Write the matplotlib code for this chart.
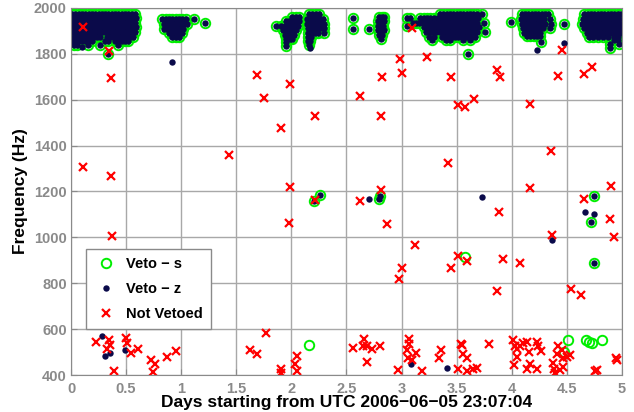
import numpy as np
import matplotlib
matplotlib.use('Agg')
import matplotlib.pyplot as plt

plt.rcParams['font.family'] = ['Liberation Sans', 'DejaVu Sans']
plt.rcParams['font.weight'] = 'bold'

# ---- data ----
# dense trigger clumps near the top: each row is (frequency Hz, [day offsets])
# these are vetoed by both s and z
clump1 = [(1975, [0.010, 0.040, 0.070, 0.100, 0.130, 0.160, 0.190, 0.220, 0.250, 0.280, 0.310, 0.340,
                  0.370, 0.400, 0.430, 0.460, 0.490, 0.520, 0.550, 0.580]),
          (1955, [0.025, 0.055, 0.085, 0.115, 0.145, 0.175, 0.205, 0.235, 0.265, 0.295, 0.325, 0.355,
                  0.385, 0.415, 0.445, 0.475, 0.505, 0.535, 0.565, 0.590]),
          (1935, [0.010, 0.040, 0.070, 0.100, 0.130, 0.160, 0.190, 0.220, 0.250, 0.280, 0.310, 0.340,
                  0.370, 0.400, 0.430, 0.460, 0.490, 0.520, 0.550, 0.580]),
          (1915, [0.025, 0.055, 0.085, 0.115, 0.145, 0.175, 0.205, 0.235, 0.265, 0.295, 0.325, 0.355,
                  0.385, 0.415, 0.445, 0.475, 0.505, 0.535, 0.565, 0.590]),
          (1895, [0.010, 0.040, 0.070, 0.100, 0.130, 0.160, 0.190, 0.220, 0.250, 0.280, 0.310, 0.340,
                  0.370, 0.400, 0.430, 0.460, 0.490, 0.520, 0.550, 0.580]),
          (1875, [0.025, 0.055, 0.085, 0.115, 0.145, 0.175, 0.205, 0.235, 0.265, 0.325, 0.355,
                  0.385, 0.415, 0.445, 0.475, 0.505, 0.535, 0.565]),
          (1857, [0.010, 0.040, 0.070, 0.100, 0.130, 0.160, 0.190, 0.310, 0.340, 0.400, 0.430, 0.460,
                  0.490, 0.520]),
          (1840, [0.025, 0.055, 0.150, 0.260, 0.430]),
          (1797, [0.335])]
clump2 = [(1950, [0.830, 0.860, 0.890, 0.920, 0.950, 0.980, 1.010, 1.040, 1.120]),
          (1936, [1.220]),
          (1930, [0.845, 0.875, 0.905, 0.935, 0.965, 0.995, 1.025, 1.055]),
          (1910, [0.840, 0.870, 0.900, 0.930, 0.960, 0.990, 1.020]),
          (1890, [0.890, 0.920, 0.950, 0.980, 1.010]),
          (1874, [0.920, 0.950, 0.980])]
clump3 = [(1962, [2.010, 2.040, 2.065]),
          (1942, [1.950, 1.980, 2.010, 2.040, 2.070]),
          (1922, [1.860, 1.910, 1.940, 1.970, 2.000, 2.030, 2.060]),
          (1902, [1.920, 1.950, 1.980, 2.010, 2.040]),
          (1882, [1.940, 1.970, 2.000, 2.025]),
          (1866, [1.955, 1.985, 2.010]),
          (1850, [1.950]),
          (1832, [1.950])]
clump4 = [(1972, [2.160, 2.190, 2.220, 2.250]),
          (1952, [2.140, 2.170, 2.200, 2.230, 2.260, 2.290]),
          (1932, [2.140, 2.170, 2.200, 2.230, 2.260, 2.300]),
          (1912, [2.150, 2.180, 2.210, 2.240, 2.270, 2.300]),
          (1892, [2.150, 2.180, 2.210, 2.240, 2.300]),
          (1872, [2.150, 2.180]),
          (1855, [2.150, 2.170]),
          (1840, [2.160])]
clump5 = [(1955, [2.556]),
          (1907, [2.556, 2.700]),
          (1962, [2.795, 2.825, 2.845]),
          (1942, [2.785, 2.815, 2.840]),
          (1922, [2.785, 2.810, 2.835]),
          (1902, [2.790, 2.815, 2.840]),
          (1882, [2.795, 2.825]),
          (1865, [2.810])]
clump6 = [(1975, [3.350, 3.380, 3.410, 3.440, 3.470, 3.500, 3.530, 3.560, 3.590, 3.620, 3.650, 3.680,
                  3.730]),
          (1955, [3.046, 3.080, 3.170, 3.200, 3.230, 3.260, 3.290, 3.335, 3.365, 3.395, 3.425, 3.455,
                  3.485, 3.515, 3.545, 3.575, 3.605, 3.635, 3.665, 3.695]),
          (1935, [3.100, 3.130, 3.160, 3.190, 3.220, 3.250, 3.280, 3.310, 3.350, 3.380, 3.410, 3.440,
                  3.470, 3.500, 3.530, 3.560, 3.590, 3.620, 3.650, 3.680, 3.750]),
          (1923, [3.046]),
          (1915, [3.205, 3.235, 3.265, 3.295, 3.335, 3.365, 3.395, 3.425, 3.455, 3.485, 3.515, 3.545,
                  3.575, 3.605, 3.635, 3.665, 3.700]),
          (1895, [3.220, 3.250, 3.280, 3.310, 3.350, 3.380, 3.410, 3.440, 3.470, 3.500, 3.530, 3.560,
                  3.590, 3.620, 3.650, 3.680, 3.760]),
          (1875, [3.250, 3.290, 3.365, 3.395, 3.425, 3.455, 3.485, 3.515, 3.545, 3.575, 3.605, 3.635,
                  3.665]),
          (1862, [3.280, 3.400, 3.440, 3.560, 3.620]),
          (1800, [3.600])]
clump7 = [(1972, [4.090, 4.120, 4.150, 4.180, 4.210, 4.240, 4.270, 4.300, 4.330]),
          (1952, [4.085, 4.115, 4.145, 4.175, 4.205, 4.235, 4.265, 4.295, 4.350]),
          (1940, [3.990]),
          (1932, [4.090, 4.120, 4.150, 4.180, 4.210, 4.240, 4.270, 4.300, 4.360]),
          (1929, [4.470]),
          (1912, [4.100, 4.130, 4.160, 4.190, 4.220, 4.250, 4.280, 4.345]),
          (1892, [4.110, 4.140, 4.170, 4.200, 4.230, 4.260]),
          (1876, [4.140, 4.170, 4.200, 4.230, 4.260]),
          (1853, [4.265])]
clump8 = [(1972, [4.660, 4.690, 4.720, 4.750, 4.780, 4.810, 4.840, 4.870, 4.900, 4.930, 4.960, 4.985]),
          (1952, [4.645, 4.675, 4.705, 4.735, 4.765, 4.795, 4.825, 4.855, 4.885, 4.915, 4.945, 4.975]),
          (1932, [4.640, 4.670, 4.700, 4.730, 4.760, 4.790, 4.820, 4.850, 4.880, 4.910, 4.940, 4.970,
                  4.990]),
          (1912, [4.655, 4.685, 4.715, 4.745, 4.775, 4.805, 4.835, 4.865, 4.895, 4.925, 4.955, 4.985]),
          (1892, [4.680, 4.710, 4.740, 4.770, 4.800, 4.830, 4.860, 4.890, 4.920, 4.950, 4.980]),
          (1874, [4.700, 4.740, 4.780, 4.830, 4.870, 4.930, 4.960]),
          (1858, [4.930, 4.960]),
          (1842, [4.890, 4.970]),
          (1825, [4.890])]

# scattered triggers vetoed by both
both_days = [2.205, 2.257, 2.798, 2.800, 4.749, 4.719, 4.749]
both_freq = [1160, 1183, 1168, 1180, 1182, 1067, 889]

# only s veto
s_days = [3.575, 2.157, 4.510, 4.673, 4.700, 4.725, 4.816, 4.477]
s_freq = [913, 531, 553, 551, 544, 538, 554, 502]

# only z veto
z_days = [0.097, 0.914, 2.170, 4.226, 4.477, 2.707, 3.733, 4.362, 4.664, 4.749,
          0.278, 0.308, 0.354, 0.490, 3.085, 3.409]
z_freq = [1831, 1765, 1826, 1817, 1849, 1167, 1175, 989, 1110, 1101,
          569, 485, 497, 510, 446, 432]

# not vetoed
nv_days = [0.106, 0.348, 0.360, 1.685, 1.987, 1.751, 2.625, 2.214, 1.908, 1.434, 0.106, 0.360,
           1.987, 3.097, 2.983, 3.228, 2.820, 3.001, 3.446, 3.869, 3.893, 4.416, 4.658, 4.725,
           4.453, 2.816, 3.515, 3.575, 3.660, 4.168, 4.358, 3.424, 4.168, 4.897, 2.816, 2.211,
           1.978, 2.625, 0.375, 2.870, 3.122, 3.001, 2.979, 3.884, 4.362, 4.658, 4.891, 4.925,
           3.515, 3.590, 3.446, 3.923, 4.072, 3.869, 4.535, 4.625,
           0.224, 0.348, 0.354, 0.324, 0.390, 0.496, 0.505, 0.541, 0.611, 0.723, 0.762, 0.741,
           0.868, 0.953, 1.770, 1.627, 1.685, 1.906, 1.908, 2.033, 2.054, 2.054, 2.562, 2.662,
           2.653, 2.689, 2.734, 2.804, 2.683, 3.064, 3.070, 3.052, 3.055, 3.131, 3.092, 2.965,
           3.182, 3.358, 3.342, 3.536, 3.551, 3.560, 3.590, 3.515, 3.590, 3.645, 3.681, 3.796,
           4.014, 4.029, 4.050, 4.075, 4.099, 4.140, 4.044, 4.023, 4.159, 4.165, 4.135, 4.226,
           4.241, 4.268, 4.232, 4.422, 4.407, 4.453, 4.468, 4.498, 4.528, 4.371, 4.380, 4.435,
           4.390, 4.468, 4.755, 4.770, 4.943, 4.952]
nv_freq = [1916, 1812, 1696, 1707, 1667, 1606, 1614, 1529, 1476, 1358, 1305, 1269,
           1218, 1911, 1776, 1788, 1699, 1718, 1698, 1730, 1698, 1704, 1711, 1742,
           1817, 1531, 1577, 1568, 1602, 1582, 1378, 1326, 1214, 1224, 1207, 1163,
           1061, 1160, 1007, 1057, 967, 865, 819, 1112, 1010, 1167, 1080, 1000,
           920, 897, 868, 906, 890, 766, 774, 749,
           543, 553, 531, 514, 419, 560, 541, 496, 512, 466, 450, 413,
           480, 503, 583, 509, 492, 428, 410, 448, 484, 419, 519, 556,
           528, 528, 514, 528, 458, 556, 534, 509, 473, 495, 466, 422,
           419, 509, 473, 535, 531, 490, 473, 426, 419, 428, 429, 535,
           553, 528, 515, 528, 538, 544, 480, 444, 499, 448, 426, 544,
           528, 506, 426, 528, 492, 509, 473, 480, 487, 451, 426, 422,
           408, 437, 419, 422, 473, 466]

x_ticks = [0, 0.5, 1, 1.5, 2, 2.5, 3, 3.5, 4, 4.5, 5]
x_tick_labels = ['0', '0.5', '1', '1.5', '2', '2.5', '3', '3.5', '4', '4.5', '5']
y_ticks = [400, 600, 800, 1000, 1200, 1400, 1600, 1800, 2000]


def unroll(rows):
    xs, ys = [], []
    for f, days in rows:
        xs += days
        ys += [f] * len(days)
    return xs, ys


cx, cy = [], []
for c in [clump1, clump2, clump3, clump4, clump5, clump6, clump7, clump8]:
    a, b = unroll(c)
    cx += a
    cy += b

vs_x = cx + both_days + s_days
vs_y = cy + both_freq + s_freq
vz_x = cx + both_days + z_days
vz_y = cy + both_freq + z_freq

fig = plt.figure(figsize=(6.34, 4.12), dpi=100)
ax = fig.add_axes([0.112, 0.0898, 0.869, 0.891])

ax.plot(vs_x, vs_y, 'o', ls='none', mfc='none', mec='#00ee00', ms=6.8, mew=1.4, label='Veto \u2212 s')
ax.plot(vz_x, vz_y, 'o', ls='none', mfc='#0a0a4a', mec='#0a0a4a', ms=4.6, mew=0, label='Veto \u2212 z')
ax.plot(nv_days, nv_freq, 'x', ls='none', color='#ff0000', ms=5.8, mew=1.6, label='Not Vetoed')

ax.set_xlim(0, 5)
ax.set_ylim(400, 2000)
ax.set_xticks(x_ticks)
ax.set_xticklabels(x_tick_labels)
ax.set_yticks(y_ticks)
ax.grid(True, color='#a8a8a8', lw=1.0)
ax.set_axisbelow(True)
ax.tick_params(direction='in', colors='#8a8a8a', labelsize=10.5, length=4, pad=3)
ax.tick_params(axis='x', pad=5)
for s in ax.spines.values():
    s.set_color('#8a8a8a')

ax.set_xlabel('Days starting from UTC 2006\u221206\u221205 23:07:04', fontsize=12.5, fontweight='bold',
              color='black', labelpad=-1)
ax.set_ylabel('Frequency (Hz)', fontsize=12.5, fontweight='bold', color='black', labelpad=4)

leg = ax.legend(loc='upper left', bbox_to_anchor=(0.027, 0.343), fancybox=False, framealpha=1,
                edgecolor='#8a8a8a', prop={'weight': 'bold', 'size': 10.5}, borderpad=0.55,
                labelspacing=0.75, handletextpad=0.6, handlelength=1.6, borderaxespad=0)
leg.get_frame().set_linewidth(1.0)

fig.savefig('out.png', dpi=100)
